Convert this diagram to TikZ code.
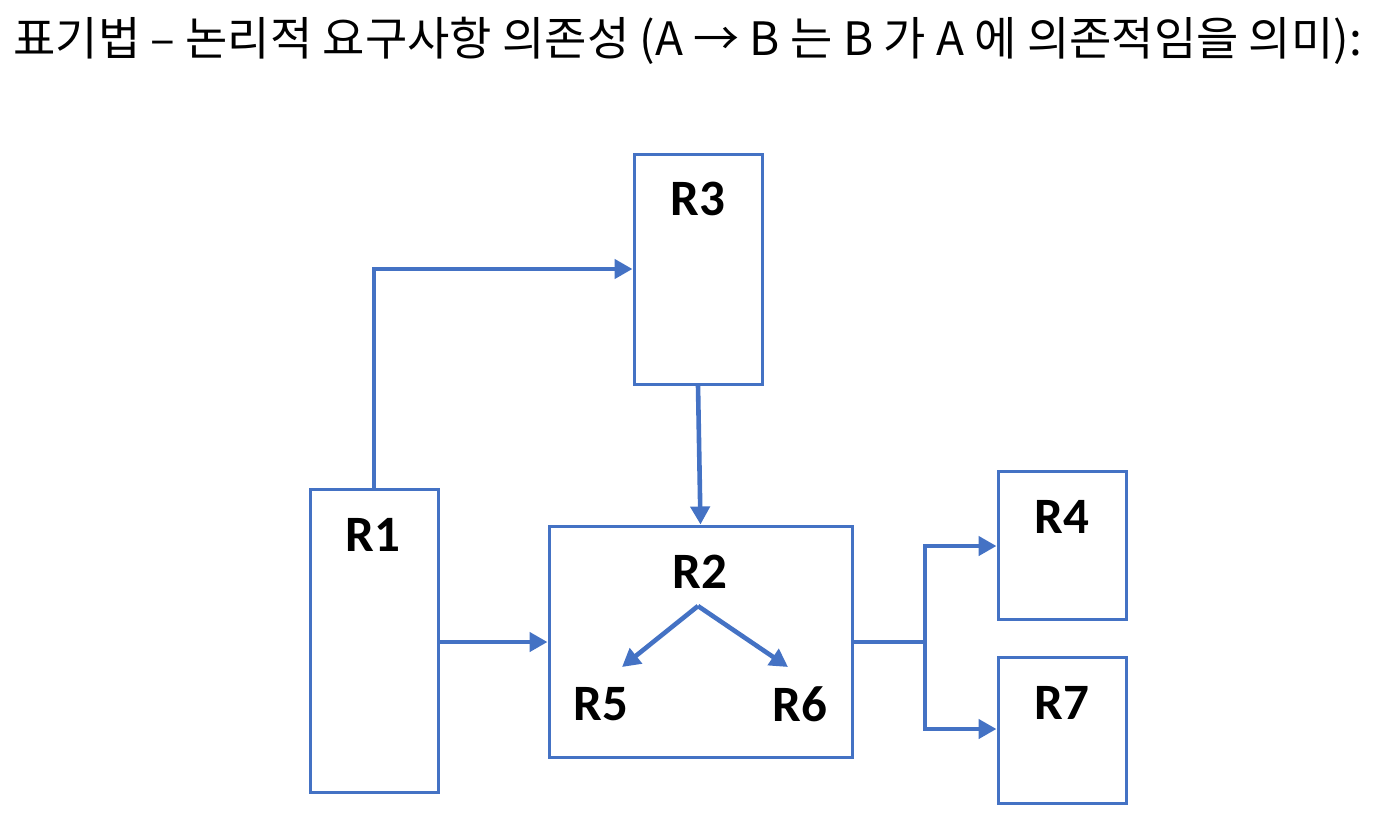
\documentclass[tikz,border=0pt]{standalone}
\usepackage{fontspec}
\usetikzlibrary{arrows.meta}
\newfontfamily\krfont{Noto Sans CJK KR}
\newfontfamily\labfont{Carlito}
\definecolor{boxblue}{HTML}{4472C4}
\begin{document}
\begin{tikzpicture}[x=0.5pt,y=-0.5pt,
  reqbox/.style={draw=boxblue,line width=1.5pt,inner sep=0pt},
  lab/.style={font=\labfont\bfseries\fontsize{25.5pt}{28pt}\selectfont,inner sep=0pt},
  conn/.style={draw=boxblue,line width=2.3pt,-{Triangle[length=9pt,width=9.5pt]}},
  plain/.style={draw=boxblue,line width=2.3pt}]
\useasboundingbox (0,0) rectangle (1374,826);
\node[anchor=base west,inner sep=0pt,font=\krfont\fontsize{23pt}{26pt}\selectfont] (title) at (13,55) {표기법 – 논리적 요구사항 의존성 (A → B 는 B 가 A 에 의존적임을 의미):};
% boxes
\node[reqbox,minimum width=64pt,minimum height=115pt] (R3) at (698,269) {};
\node[reqbox,minimum width=64pt,minimum height=151.5pt] (R1) at (374,640.5) {};
\node[reqbox,minimum width=151.5pt,minimum height=115.5pt] (R2) at (700.5,641.5) {};
\node[reqbox,minimum width=64pt,minimum height=74pt] (R4) at (1062,545) {};
\node[reqbox,minimum width=64pt,minimum height=73pt] (R7) at (1062,730) {};
% labels
\node[lab] (l3) at (698,199) {R3};
\node[lab] (l1) at (373,535) {R1};
\node[lab] (l2) at (700,572) {R2};
\node[lab] (l4) at (1062,517) {R4};
\node[lab] (l7) at (1062,703) {R7};
\node[lab] (l5) at (601,704) {R5};
\node[lab] (l6) at (800,704) {R6};
% connectors
\draw[conn] (R1.north) |- (R3.west);
\draw[conn] (R3.south) -- (R2.north);
\draw[conn] (R1.east |- 0,642) -- (R2.west |- 0,642);
\coordinate (junc) at (925,642);
\draw[plain] (R2.east |- junc) -- (junc);
\draw[conn] (junc) |- (R4.west |- 0,546);
\draw[conn] (junc) |- (R7.west |- 0,729);
% inner arrows
\coordinate (apex) at (698,606);
\coordinate (t5) at (622,667);
\coordinate (t6) at (788,667);
\draw[conn] (apex) -- (t5);
\draw[conn] (apex) -- (t6);
\end{tikzpicture}
\end{document}
